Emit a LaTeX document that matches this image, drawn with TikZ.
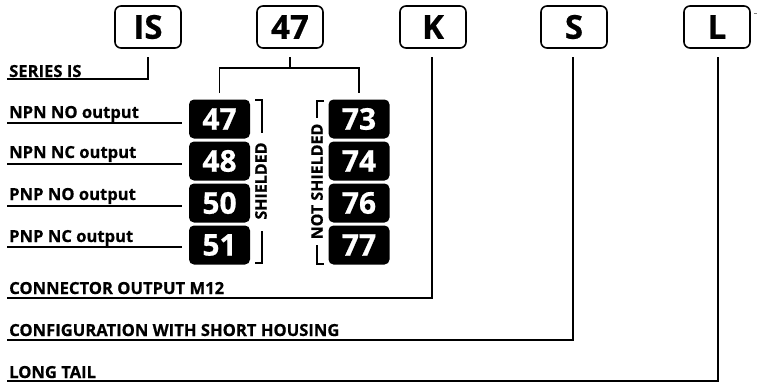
\documentclass[tikz,border=0pt]{standalone}
\usepackage{fontspec}
\setmainfont{Open Sans}[BoldFeatures={FakeBold=0.6}]
\begin{document}
\begin{tikzpicture}[x=1pt,y=-1pt,
  codebox/.style={draw,line width=1.6pt,rounded corners=6pt,minimum width=66pt,minimum height=42pt,inner sep=0pt,font=\fontsize{33}{33}\bfseries\selectfont},
  numbox/.style={fill=black,rounded corners=5pt,minimum width=61pt,minimum height=39pt,inner sep=0pt,text=white,font=\fontsize{30}{30}\bfseries\selectfont},
  lab/.style={anchor=base west,inner sep=0pt,font=\fontsize{16.6}{16}\bfseries\selectfont},
  vlab/.style={rotate=90,inner sep=0pt,font=\fontsize{16}{16}\bfseries\selectfont},
  conn/.style={line width=1.3pt}]
\useasboundingbox (0,0) rectangle (758,383);
% top code boxes
\node[codebox] (IS) at (148,27) {IS};
\node[codebox] (C47) at (290,27) {47};
\node[codebox] (K) at (433,27) {K};
\node[codebox] (S) at (574,27) {S};
\node[codebox] (L) at (717,27) {L};
\draw[line width=0.8pt,gray] (754,13) -- (757,13);
% labels
\node[lab] (series) at (9,77) {SERIES IS};
\node[lab] (npnno) at (9,118) {NPN NO output};
\node[lab] (npnnc) at (9,158) {NPN NC output};
\node[lab] (pnpno) at (9,200) {PNP NO output};
\node[lab] (pnpnc) at (9,242) {PNP NC output};
\node[lab] (conn12) at (9,294) {CONNECTOR OUTPUT M12};
\node[lab] (config) at (9,336) {CONFIGURATION WITH SHORT HOUSING};
\node[lab] (long) at (9,378) {LONG TAIL};
% number boxes
\node[numbox] (n47) at (219.5,119) {47};
\node[numbox] (n48) at (219.5,161) {48};
\node[numbox] (n50) at (219.5,203) {50};
\node[numbox] (n51) at (219.5,245) {51};
\node[numbox] (n73) at (359,119) {73};
\node[numbox] (n74) at (359,161) {74};
\node[numbox] (n76) at (359,203) {76};
\node[numbox] (n77) at (359,245) {77};
% bracket texts
\node[vlab] (shield) at (261,181) {SHIELDED};
\node[vlab] (notshield) at (317,181.5) {NOT SHIELDED};
% coordinates
\coordinate (ISa) at (148,57); \coordinate (ISb) at (148,79); \coordinate (ISc) at (7,79);
\coordinate (Ta) at (290,57); \coordinate (Tb) at (290,68);
\coordinate (Tl) at (219.5,68); \coordinate (Tr) at (359,68);
\coordinate (Tld) at (219.5,93); \coordinate (Trd) at (359,93);
\coordinate (Ka) at (432,57); \coordinate (Kb) at (432,298); \coordinate (Kc) at (7,298);
\coordinate (Sa) at (573,57); \coordinate (Sb) at (573,340); \coordinate (Sc) at (7,340);
\coordinate (La) at (718,57); \coordinate (Lb) at (718,381); \coordinate (Lc) at (7,381);
\draw[conn] (ISa) -- (ISb) -- (ISc);
\draw[conn] (Ta) -- (Tb);
\draw[conn] (Tld) -- (Tl) -- (Tr) -- (Trd);
\draw[conn] (Ka) -- (Kb) -- (Kc);
\draw[conn] (Sa) -- (Sb) -- (Sc);
\draw[conn] (La) -- (Lb) -- (Lc);
% underlines
\foreach \nm/\yy in {npnno/123,npnnc/164,pnpno/206,pnpnc/247}{
  \coordinate (\nm-u0) at (7,\yy);
  \coordinate (\nm-u1) at (182,\yy);
  \draw[conn] (\nm-u0) -- (\nm-u1);
}
% brackets
\coordinate (b1a) at (255,100); \coordinate (b1b) at (262,100); \coordinate (b1c) at (262,133);
\coordinate (b1d) at (262,231); \coordinate (b1e) at (262,263); \coordinate (b1f) at (255,263);
\draw[conn] (b1a) -- (b1b) -- (b1c);
\draw[conn] (b1d) -- (b1e) -- (b1f);
\coordinate (b2a) at (324,101); \coordinate (b2b) at (317,101); \coordinate (b2c) at (317,118);
\coordinate (b2d) at (317,245); \coordinate (b2e) at (317,264); \coordinate (b2f) at (324,264);
\draw[conn] (b2a) -- (b2b) -- (b2c);
\draw[conn] (b2d) -- (b2e) -- (b2f);
\end{tikzpicture}
\end{document}
